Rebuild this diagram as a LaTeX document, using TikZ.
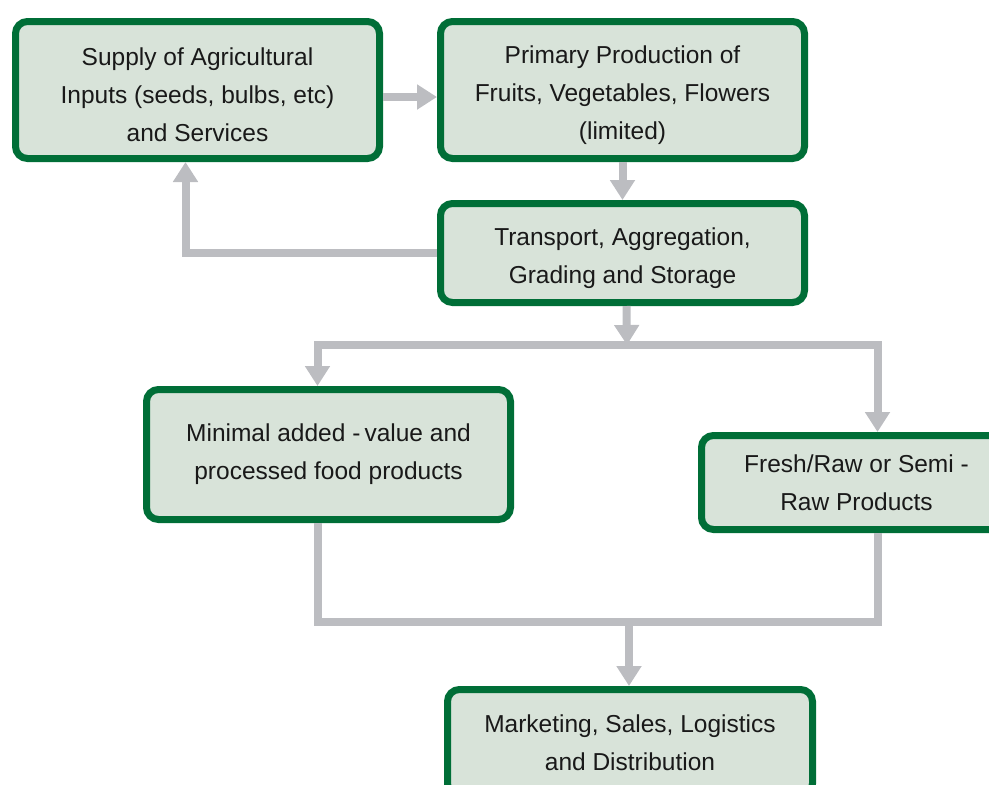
\documentclass[tikz,border=0pt]{standalone}
\usepackage{fontspec}
\setmainfont{Liberation Sans}
\usetikzlibrary{arrows.meta}

\definecolor{boxgreen}{HTML}{006E37}
\definecolor{boxfill}{HTML}{D8E3D9}
\definecolor{arrowgray}{HTML}{BCBDC1}

\tikzstyle{stage} = [rectangle, rounded corners=12pt, draw=boxgreen, line width=7pt, fill=boxfill, align=center, inner sep=0pt, text=black!90, font=\fontsize{24.5}{38}\selectfont]
\tikzstyle{flow} = [draw=arrowgray, line width=8pt, -{Triangle[width=24pt,length=20pt]}]
\tikzstyle{link} = [draw=arrowgray, line width=8pt]

\newcommand{\lowstrut}{\rule{0pt}{28pt}}

\begin{document}
\begin{tikzpicture}[x=1pt,y=-1pt]
       \useasboundingbox (0,0) rectangle (989,785);
       \clip (0,0) rectangle (989,785);

       \node[stage, minimum width=364pt, minimum height=137pt] (supply) at (197.5,90) {\lowstrut Supply of Agricultural\\Inputs (seeds, bulbs, etc)\\and Services};
       \node[stage, minimum width=364pt, minimum height=137pt] (primary) at (622.5,90) {\lowstrut Primary Production of\\Fruits, Vegetables, Flowers\\(limited)};
       \node[stage, minimum width=364pt, minimum height=99pt] (transport) at (622.5,253) {\lowstrut Transport, Aggregation,\\Grading and Storage};
       \node[stage, minimum width=364pt, minimum height=130pt] (minimal) at (328.5,454.5) {Minimal added -\,value and\\processed food products};
       \node[stage, minimum width=310pt, minimum height=94pt] (fresh) at (856.5,482.5) {Fresh/Raw or Semi -\\Raw Products};
       \node[stage, minimum width=365pt, minimum height=106pt] (market) at (630,742.5) {Marketing, Sales, Logistics\\and Distribution};

       \coordinate (split) at (627,345);
       \coordinate (merge) at (629,622);

       \draw[flow] ([yshift=-7pt]supply.east) -- ([yshift=-7pt]primary.west);
       \draw[flow] (primary.south) -- (transport.north);
       \draw[flow] (transport.west) -| ([xshift=-12pt]supply.south);
       \draw[flow] ([xshift=4pt]transport.south) -- (split);
       \draw[flow] (split) -| ([xshift=-11pt]minimal.north);
       \draw[flow] (split) -| ([xshift=21pt]fresh.north);
       \draw[link] ([xshift=-11pt]minimal.south) |- (merge) -| ([xshift=21pt]fresh.south);
       \draw[flow] (merge) -- (merge |- market.north);
     \end{tikzpicture}
\end{document}
